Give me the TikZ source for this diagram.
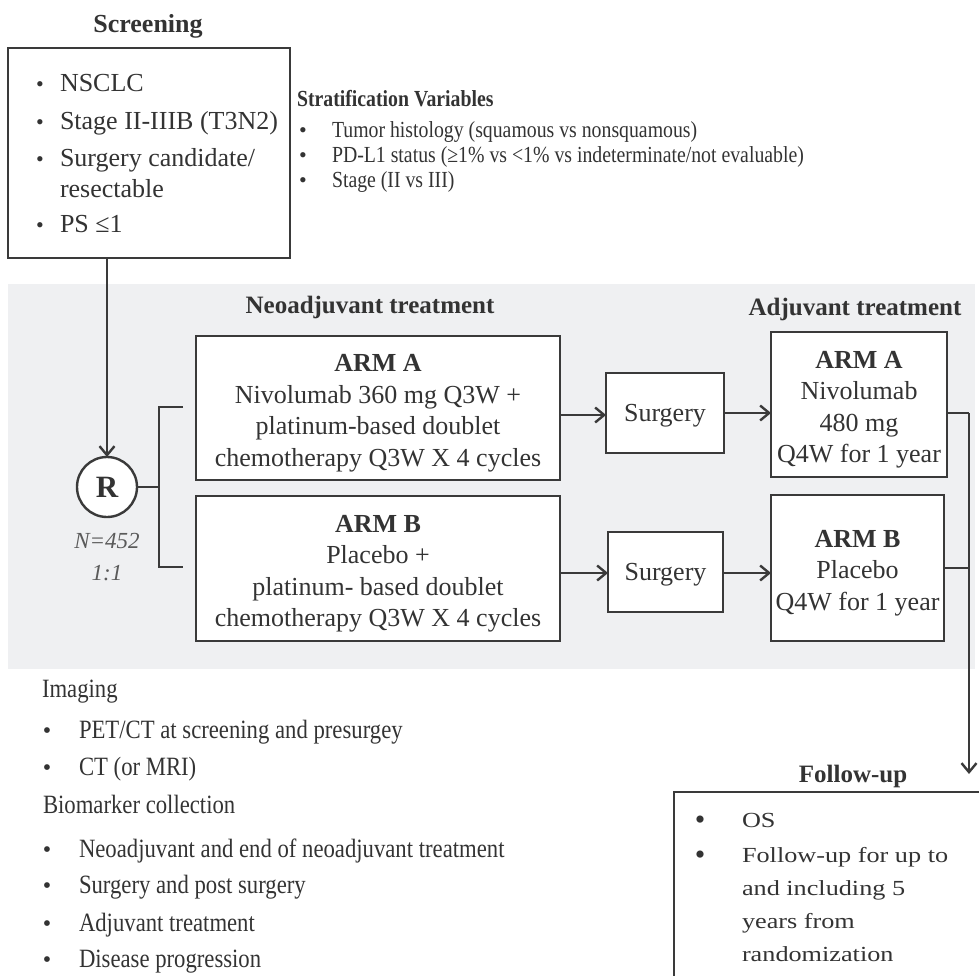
\documentclass[tikz,border=0pt]{standalone}
\usepackage{fontspec}
\setmainfont{Liberation Serif}
\newfontfamily\narrowserif[FakeStretch=0.86]{Liberation Serif}
\newfontfamily\wideserif[FakeStretch=1.22]{Liberation Serif}
\usetikzlibrary{arrows.meta}
\definecolor{ink}{HTML}{333333}
\definecolor{linec}{HTML}{3A3A3A}
\definecolor{panel}{HTML}{EFF0F2}
\definecolor{softink}{HTML}{5A5A5A}
\newcommand{\fsz}[2]{\fontsize{#1}{#2}\selectfont}

\begin{document}
\begin{tikzpicture}[x=1pt,y=-1pt,
  every node/.style={text=ink, inner sep=0pt, outer sep=0pt},
  box/.style={draw=linec, line width=2.4pt, fill=white, inner sep=0pt},
  link/.style={draw=linec, line width=2.4pt},
  arr/.style={link, -{Straight Barb[length=9pt,width=15pt]}},
  head/.style={font=\fsz{25}{30}\bfseries, anchor=base},
  boxtext/.style={font=\fsz{26}{31.5}, align=center},
  scrline/.style={font=\fsz{26}{30}, anchor=base west},
  scrdot/.style={font=\fsz{22}{26}, anchor=base},
  strline/.style={font=\narrowserif\fsz{23}{26}, anchor=base west},
  strdot/.style={font=\fsz{22}{26}, anchor=base},
  botline/.style={font=\narrowserif\fsz{26.4}{30}, anchor=base west},
  botdot/.style={font=\fsz{24}{30}, anchor=base},
  fupline/.style={font=\wideserif\fsz{21.5}{26}, anchor=base west},
  fupdot/.style={font=\fsz{30}{30}, anchor=base},
]
\useasboundingbox (0,0) rectangle (979,976);
\clip (0,0) rectangle (979,976);

% shaded treatment band
\fill[panel] (8,284) rectangle (975,669);

% ---- screening ----
\node[head, font=\fsz{26}{30}\bfseries] (scrhead) at (148,33) {Screening};
\node[box, minimum width=282pt, minimum height=210pt] (scr) at (149,153) {};
\node[scrdot] (sd1) at (40,92) {\textbullet};
\node[scrline] (sl1) at (60,92) {NSCLC};
\node[scrdot] (sd2) at (40,130) {\textbullet};
\node[scrline] (sl2) at (60,130) {Stage II-IIIB (T3N2)};
\node[scrdot] (sd3) at (40,167) {\textbullet};
\node[scrline] (sl3) at (60,167) {Surgery candidate/};
\node[scrline] (sl4) at (60,198) {resectable};
\node[scrdot] (sd5) at (40,233) {\textbullet};
\node[scrline] (sl5) at (60,233) {PS ≤1};

% ---- stratification ----
\node[strline, font=\narrowserif\fsz{23}{26}\bfseries] (strhead) at (297,107) {Stratification Variables};
\node[strdot] (td1) at (303,138) {\textbullet};
\node[strline] (tl1) at (332,138) {Tumor histology (squamous vs nonsquamous)};
\node[strdot] (td2) at (303,163) {\textbullet};
\node[strline] (tl2) at (332,163) {PD-L1 status (≥1\% vs <1\% vs indeterminate/not evaluable)};
\node[strdot] (td3) at (303,188) {\textbullet};
\node[strline] (tl3) at (332,188) {Stage (II vs III)};

% ---- treatment phase headings ----
\node[head] (neohead) at (370,313) {Neoadjuvant treatment};
\node[head] (adjhead) at (855,315) {Adjuvant treatment};

% ---- randomisation ----
\node[draw=linec, line width=2.4pt, fill=white, circle, minimum size=60pt,
      font=\fsz{31}{34}\bfseries] (R) at (107,487) {R};
\node[font=\fsz{23}{27}\itshape, text=softink, anchor=base] (nlab) at (107,548) {N=452};
\node[font=\fsz{23}{27}\itshape, text=softink, anchor=base] (ratio) at (107,580) {1:1};

% ---- arm boxes ----
\node[box, minimum width=364pt, minimum height=144pt] (armA) at (378,408) {};
\node[boxtext] (armAtxt) at ([yshift=-5pt]armA.center)
  {\textbf{ARM A}\\Nivolumab 360 mg Q3W +\\platinum-based doublet\\chemotherapy Q3W X 4 cycles};
\node[box, minimum width=364pt, minimum height=145pt] (armB) at (378,568.5) {};
\node[boxtext] (armBtxt) at ([yshift=-5pt]armB.center)
  {\textbf{ARM B}\\Placebo +\\platinum- based doublet\\chemotherapy Q3W X 4 cycles};
\node[box, minimum width=118pt, minimum height=80pt] (surgA) at (665,413) {};
\node[boxtext] (surgAtxt) at ([yshift=-3pt]surgA.center) {Surgery};
\node[box, minimum width=115pt, minimum height=80pt] (surgB) at (665.5,572) {};
\node[boxtext] (surgBtxt) at ([yshift=-3pt]surgB.center) {Surgery};
\node[box, minimum width=176pt, minimum height=145pt] (adjA) at (859,404.5) {};
\node[boxtext] (adjAtxt) at ([yshift=-5pt]adjA.center)
  {\textbf{ARM A}\\Nivolumab\\480 mg\\Q4W for 1 year};
\node[box, minimum width=173pt, minimum height=146pt] (adjB) at (857.5,568) {};
\node[boxtext] (adjBtxt) at ([yshift=-5pt]adjB.center)
  {\textbf{ARM B}\\Placebo\\Q4W for 1 year};

% ---- connectors ----
\draw[arr] (R.north |- scr.south) -- (R.north);
\coordinate (split) at (159,487);
\coordinate (brA) at (183,407);
\coordinate (brB) at (183,567);
\draw[link] (R.east) -- (split);
\draw[link] (brA) -- (split |- brA) -- (split |- brB) -- (brB);

\draw[arr] (armA.east |- 0,415) -- (surgA.west |- 0,415);
\draw[arr] (surgA.east |- 0,413) -- (adjA.west |- 0,413);
\draw[arr] (armB.east |- 0,573) -- (surgB.west |- 0,573);
\draw[arr] (surgB.east |- 0,573) -- (adjB.west |- 0,573);

\coordinate (joinA) at (969,413);
\coordinate (joinB) at (969,568);
\coordinate (fupin) at (969,774);
\draw[link] (adjA.east |- joinA) -- (joinA);
\draw[link] (adjB.east |- joinB) -- (joinB);
\draw[arr] (joinA) -- (fupin);

% ---- follow-up ----
\node[head] (fuphead) at (853,782) {Follow-up};
\node[draw=linec, line width=1.6pt, fill=white, anchor=north west,
      minimum width=340pt, minimum height=220pt] (fup) at (674,792) {};
\node[fupdot] (fd1) at (700,829) {\textbullet};
\node[fupline] (fl1) at (742,827) {OS};
\node[fupdot] (fd2) at (700,864) {\textbullet};
\node[fupline] (fl2) at (742,862) {Follow-up for up to};
\node[fupline] (fl3) at (742,895) {and including 5};
\node[fupline] (fl4) at (742,928) {years from};
\node[fupline] (fl5) at (742,961) {randomization};

% ---- assessments ----
\node[botline] (imghead) at (42,697) {Imaging};
\node[botdot] (bd1) at (47,738) {\textbullet};
\node[botline] (bl1) at (79,738) {PET/CT at screening and presurgey};
\node[botdot] (bd2) at (47,775) {\textbullet};
\node[botline] (bl2) at (79,775) {CT (or MRI)};
\node[botline] (biohead) at (43,813) {Biomarker collection};
\node[botdot] (bd3) at (47,857) {\textbullet};
\node[botline] (bl3) at (79,857) {Neoadjuvant and end of neoadjuvant treatment};
\node[botdot] (bd4) at (47,893) {\textbullet};
\node[botline] (bl4) at (79,893) {Surgery and post surgery};
\node[botdot] (bd5) at (47,931) {\textbullet};
\node[botline] (bl5) at (79,931) {Adjuvant treatment};
\node[botdot] (bd6) at (47,967) {\textbullet};
\node[botline] (bl6) at (79,967) {Disease progression};
\end{tikzpicture}
\end{document}
